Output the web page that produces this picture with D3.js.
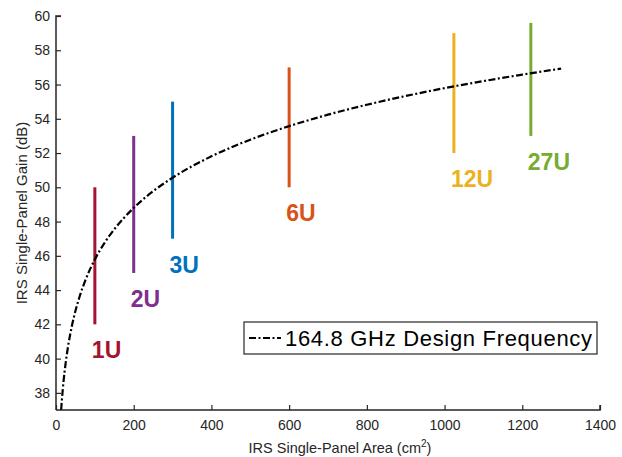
<!DOCTYPE html>
<html><head><meta charset="utf-8">
<script src="https://cdn.jsdelivr.net/npm/d3@7"></script>
<style>body{margin:0;background:#fff;} svg{display:block;font-family:"Liberation Sans",Arial,sans-serif;}</style>
</head><body>
<script>
// Design-frequency gain curve
const curveArea = [13.2, 15, 20, 25, 30, 40, 50, 60, 75, 100, 125, 150, 200, 250, 300, 400, 500, 600, 700, 800, 900, 1000, 1100, 1200, 1300];
const curveGain = [37.0, 37.55, 38.8, 39.77, 40.56, 41.81, 42.78, 43.57, 44.54, 45.79, 46.76, 47.55, 48.8, 49.77, 50.56, 51.81, 52.78, 53.57, 54.24, 54.82, 55.33, 55.79, 56.2, 56.58, 56.93];
// CubeSat size ranges
const sizeLabels = ["1U", "2U", "3U", "6U", "12U", "27U"];
const sizeArea = [100, 200, 300, 600, 1024, 1222];
const gainMin = [42, 45, 47, 50, 52, 53];
const gainMax = [50, 53, 55, 57, 59, 59.6];
const sizeColors = ["#A2142F", "#7E2F8E", "#0072BD", "#D95319", "#EDB120", "#77AC30"];
const xTicks = [0, 200, 400, 600, 800, 1000, 1200, 1400];
const yTicks = [38, 40, 42, 44, 46, 48, 50, 52, 54, 56, 58, 60];
const legendLabel = "164.8 GHz Design Frequency";

const W = 622, H = 457;
const svg = d3.select("body").append("svg").attr("width", W).attr("height", H);
const x = d3.scaleLinear().domain([0, 1400]).range([56, 600]);
const y = d3.scaleLinear().domain([37, 60]).range([410, 16]);
const axisColor = "#262626";

// bars
svg.selectAll("line.bar").data(sizeLabels).enter().append("line")
  .attr("x1", (d,i)=>x(sizeArea[i])).attr("x2", (d,i)=>x(sizeArea[i]))
  .attr("y1", (d,i)=>y(gainMin[i])).attr("y2", (d,i)=>y(gainMax[i]))
  .attr("stroke", (d,i)=>sizeColors[i]).attr("stroke-width", 3);

svg.selectAll("text.lab").data(sizeLabels).enter().append("text")
  .attr("x", (d,i)=>x(sizeArea[i]) - 3).attr("y", (d,i)=>y(gainMin[i]) + 34)
  .attr("fill", (d,i)=>sizeColors[i]).attr("font-size", 23).attr("font-weight", "bold")
  .attr("font-family", "'Liberation Sans', Arial, sans-serif")
  .text(d=>d);

// curve
const pts = curveArea.map((a,i)=>[a, curveGain[i]]);
const line = d3.line().x(d=>x(d[0])).y(d=>y(d[1])).curve(d3.curveMonotoneX);
svg.append("path").attr("d", line(pts)).attr("fill", "none")
  .attr("stroke", "#000").attr("stroke-width", 2.2).attr("stroke-dasharray", "7,2.5,2,2.5");

// axes
const fmt = d3.format("d");
const gx = svg.append("g").attr("transform", "translate(0,410)")
  .call(d3.axisBottom(x).tickValues(xTicks).tickFormat(fmt).tickSizeInner(-5).tickSizeOuter(0).tickPadding(10));
const gy = svg.append("g").attr("transform", "translate(56,0)")
  .call(d3.axisLeft(y).tickValues(yTicks).tickFormat(fmt).tickSizeInner(-5).tickSizeOuter(0).tickPadding(6));
[gx, gy].forEach(g=>{
  g.select(".domain").attr("stroke", axisColor).attr("stroke-width", 1.5);
  g.selectAll(".tick line").attr("stroke", axisColor).attr("stroke-width", 1.2);
  g.selectAll(".tick text").attr("fill", axisColor).attr("font-size", 14)
    .attr("font-family", "'Liberation Sans', Arial, sans-serif");
});
gx.select(".domain").attr("d", "M56,0H600V-5");
gy.select(".domain").attr("d", "M0,410V16H5");

// axis titles
const xt = svg.append("text").attr("x", 340).attr("y", 453).attr("text-anchor", "middle")
  .attr("font-size", 14.5).attr("fill", axisColor);
xt.append("tspan").text("IRS Single-Panel Area (cm");
xt.append("tspan").attr("font-size", 10).attr("dy", -6).text("2");
xt.append("tspan").attr("dy", 6).text(")");
svg.append("text").attr("transform", "translate(27,213) rotate(-90)").attr("text-anchor", "middle")
  .attr("font-size", 15).attr("fill", axisColor).text("IRS Single-Panel Gain (dB)");

// legend
const lg = svg.append("g");
lg.append("rect").attr("x", 244).attr("y", 322).attr("width", 353).attr("height", 32)
  .attr("fill", "#fff").attr("stroke", axisColor).attr("stroke-width", 1.2);
lg.append("line").attr("x1", 249).attr("x2", 281).attr("y1", 338).attr("y2", 338)
  .attr("stroke", "#000").attr("stroke-width", 2.2).attr("stroke-dasharray", "7,2.5,2,2.5");
lg.append("text").attr("x", 285).attr("y", 346).attr("font-size", 22).attr("fill", "#000")
  .attr("textLength", 307).text(legendLabel);
</script>
</body></html>
